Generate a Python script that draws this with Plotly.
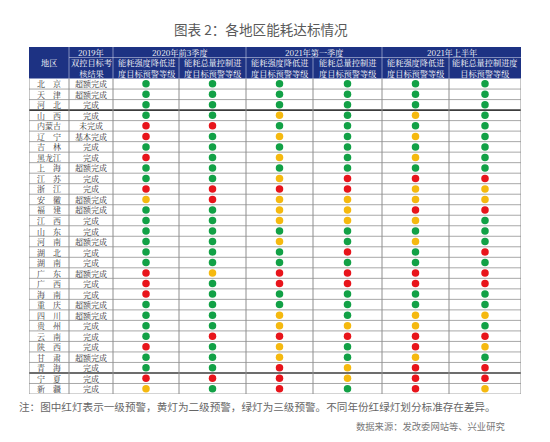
import plotly.graph_objects as go

# ---------------- data ----------------
regions = ["北\u3000京", "天\u3000津", "河\u3000北", "山\u3000西", "内蒙古", "辽\u3000宁", "吉\u3000林", "黑龙江",
           "上\u3000海", "江\u3000苏", "浙\u3000江", "安\u3000徽", "福\u3000建", "江\u3000西", "山\u3000东", "河\u3000南",
           "湖\u3000北", "湖\u3000南", "广\u3000东", "广\u3000西", "海\u3000南", "重\u3000庆", "四\u3000川", "贵\u3000州",
           "云\u3000南", "陕\u3000西", "甘\u3000肃", "青\u3000海", "宁\u3000夏", "新\u3000疆"]

result_2019 = ["超额完成", "超额完成", "完成", "完成", "未完成", "基本完成", "完成", "完成",
               "超额完成", "完成", "完成", "超额完成", "超额完成", "完成", "完成", "超额完成",
               "完成", "完成", "超额完成", "完成", "完成", "超额完成", "超额完成", "完成",
               "完成", "完成", "超额完成", "完成", "完成", "完成"]

# warning levels: G = 三级(绿), Y = 二级(黄), R = 一级(红)
q3_2020_intensity = list("GGGGRRGRGGRYGGGGGGRRRGGGGRGGRY")
q3_2020_total     = list("GGGGRGGGGGRRGGGGGGYGGGGGRGGGRG")
q1_2021_intensity = list("GGGYGYGYGYRYYYGYGGRRGGYYRYYRRR")
q1_2021_total     = list("GGGGGGGGGRRYYYGGRGRRGGGYRGGYYG")
h1_2021_intensity = list("GGGYGYGYGRYYRYGYGGRRGGYYRRYRRR")
h1_2021_total     = list("GGGGGGGGGRYYRGGGRGRRGGYGRYGRRY")

level_columns = [q3_2020_intensity, q3_2020_total, q1_2021_intensity,
                 q1_2021_total, h1_2021_intensity, h1_2021_total]

header_col0 = "地区"
header_col1_top = "2019年"
header_col1_sub = "双控目标考<br>核结果"
group_titles = ["2020年前3季度", "2021年第一季度", "2021年上半年"]
sub_titles = ["能耗强度降低进<br>度目标预警等级", "能耗总量控制进<br>度目标预警等级",
              "能耗强度降低进<br>度目标预警等级", "能耗总量控制进<br>度目标预警等级",
              "能耗强度降低进<br>度目标预警等级", "能耗总量控制进度<br>目标预警等级"]

title_text = "图表 2：各地区能耗达标情况"
note_text = "注：图中红灯表示一级预警，黄灯为二级预警，绿灯为三级预警。不同年份红绿灯划分标准存在差异。"
source_text = "数据来源：发改委网站等、兴业研究"

# ---------------- layout / style ----------------
W, H = 550, 442
OFF = 8  # page body offset
TBL_L, TBL_R, TBL_T, TBL_B = 29, 521, 47, 394   # on-screen table box
ML = TBL_L - OFF
MR = W - (TBL_R - OFF)
MT = TBL_T - OFF
MB = H - (TBL_B - OFF)
col_edges = [0, 40, 84, 150, 217, 284, 353, 420, 492]   # x-axis units (px)
n_head = 3
n_rows = len(regions)
y_total = n_head + n_rows

colors = {"G": "#12A146", "Y": "#F5B90F", "R": "#E8141B"}
navy = "#1D3283"
cjk_serif = "Noto Serif CJK SC, Liberation Serif, Noto Sans CJK SC, serif"
cjk_sans = "Noto Sans CJK SC, sans-serif"


def px_to_paper_x(px):
    return (px - OFF - ML) / (W - ML - MR)


def px_to_paper_y(py):
    return 1 - (py - OFF - MT) / (H - MT - MB)


def center(i):
    return (col_edges[i] + col_edges[i + 1]) / 2


fig = go.Figure()

# dots
for k, col in enumerate(level_columns):
    xc = center(k + 2)
    fig.add_trace(go.Scatter(
        x=[xc] * n_rows,
        y=[n_head + i + 0.5 for i in range(n_rows)],
        mode="markers",
        marker=dict(size=7.5, color=[colors[v] for v in col], line=dict(width=0)),
        hoverinfo="skip", showlegend=False, cliponaxis=False,
    ))

shapes = []
# header background
shapes.append(dict(type="rect", xref="x", yref="y", x0=col_edges[0], x1=col_edges[-1], y0=0, y1=n_head,
                   fillcolor=navy, line=dict(width=0), layer="below"))
# header inner lines
hl = "rgba(200,205,230,0.75)"
shapes.append(dict(type="line", xref="x", yref="y", x0=col_edges[1], x1=col_edges[-1], y0=1, y1=1,
                   line=dict(color=hl, width=0.8)))
for e in [col_edges[1], col_edges[2], col_edges[4], col_edges[6]]:
    shapes.append(dict(type="line", xref="x", yref="y", x0=e, x1=e, y0=0, y1=n_head,
                       line=dict(color=hl, width=0.8)))
for e in [col_edges[3], col_edges[5], col_edges[7]]:
    shapes.append(dict(type="line", xref="x", yref="y", x0=e, x1=e, y0=1, y1=n_head,
                       line=dict(color=hl, width=0.8)))
# body grid
for i in range(1, n_rows + 1):
    y = n_head + i
    thick = i in (3, 28)
    shapes.append(dict(type="line", xref="x", yref="y", x0=col_edges[0], x1=col_edges[-1], y0=y, y1=y,
                       line=dict(color="#3C3C3C" if thick else "#A8A8A8", width=1.6 if thick else 1)))
for e in col_edges:
    shapes.append(dict(type="line", xref="x", yref="y", x0=e, x1=e, y0=n_head, y1=y_total,
                       line=dict(color="#8E8E8E", width=1)))

annotations = []
hfont = dict(family=cjk_serif, size=8.2, color="white")
common = dict(xref="x", yref="y", showarrow=False, borderpad=0)
annotations.append(dict(x=center(0), y=1.5, text=header_col0, font=hfont, **common))
annotations.append(dict(x=center(1), y=0.5, text=header_col1_top, font=hfont, **common))
annotations.append(dict(x=center(1), y=2.0, text=header_col1_sub, font=hfont, **common))
for g, t in enumerate(group_titles):
    xc = (col_edges[2 + 2 * g] + col_edges[4 + 2 * g]) / 2
    annotations.append(dict(x=xc, y=0.5, text=t, font=hfont, **common))
for k, t in enumerate(sub_titles):
    annotations.append(dict(x=center(k + 2), y=2.0, text=t, font=hfont, **common))

bfont = dict(family=cjk_serif, size=8, color="#333333")
for i in range(n_rows):
    yc = n_head + i + 0.5
    annotations.append(dict(x=center(0), y=yc, text=regions[i], font=bfont, **common))
    annotations.append(dict(x=center(1), y=yc, text=result_2019[i], font=bfont, **common))

# title, note, source
annotations.append(dict(x=px_to_paper_x(261), y=px_to_paper_y(29), xref="paper", yref="paper",
                        text=title_text, showarrow=False, xanchor="center", yanchor="middle",
                        font=dict(family=cjk_sans, size=13.6, color="#595959")))
annotations.append(dict(x=px_to_paper_x(17), y=px_to_paper_y(406), xref="paper", yref="paper",
                        text=note_text, showarrow=False, xanchor="left", yanchor="middle",
                        font=dict(family=cjk_sans, size=10.6, color="#666666")))
annotations.append(dict(x=px_to_paper_x(507), y=px_to_paper_y(426), xref="paper", yref="paper",
                        text=source_text, showarrow=False, xanchor="right", yanchor="middle",
                        font=dict(family=cjk_sans, size=9.3, color="#777777")))

fig.update_layout(
    width=W, height=H,
    margin=dict(l=ML, r=MR, t=MT, b=MB, pad=0),
    paper_bgcolor="white", plot_bgcolor="white",
    xaxis=dict(range=[col_edges[0], col_edges[-1]], visible=False, fixedrange=True),
    yaxis=dict(range=[y_total, 0], visible=False, fixedrange=True),
    shapes=shapes, annotations=annotations,
    showlegend=False,
)

fig.write_html("out.html")
